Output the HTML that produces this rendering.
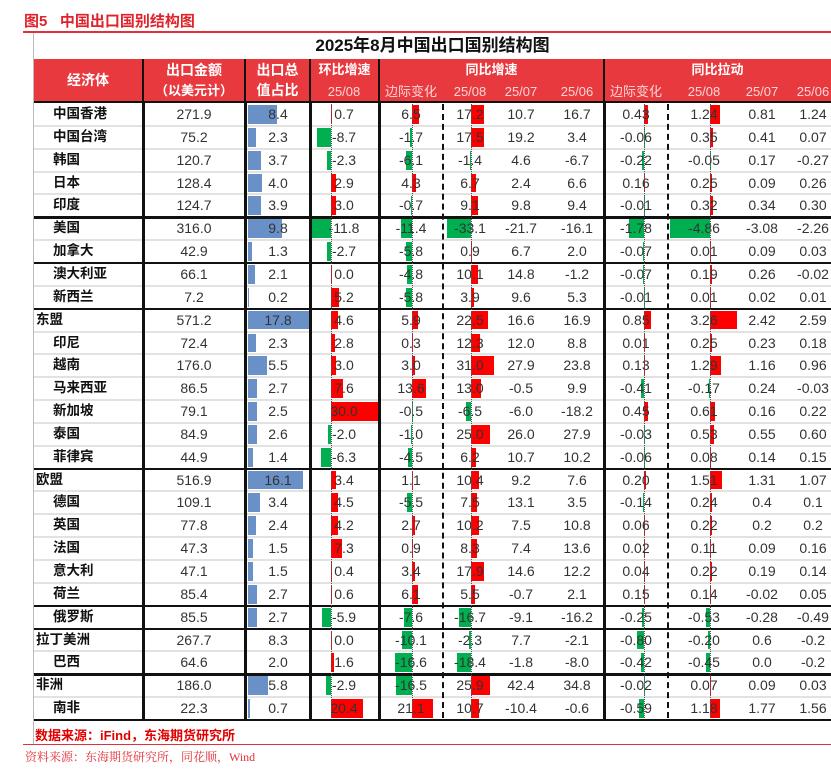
<!DOCTYPE html>
<html><head><meta charset="utf-8">
<style>
body{margin:0;background:#fff;}
#root{position:relative;width:831px;height:783px;overflow:hidden;font-family:"Liberation Sans","Noto Sans CJK SC",sans-serif;}
.a{position:absolute;}
.t{position:absolute;white-space:nowrap;text-align:center;}
</style></head>
<body>
<div id="root">
  <div class="a" style="left:24px;top:10px;font-size:15px;color:#e0222a;font-weight:bold;">图5&nbsp;&nbsp;&nbsp;中国出口国别结构图</div>
  <div class="a" style="left:23px;top:31px;width:808px;height:2px;background:#e0303a;"></div>
  <div class="a" style="left:33px;top:33px;width:1px;height:712px;background:#bbb;"></div>
  <div class="t" style="left:34px;top:34px;width:797px;font-size:17px;font-weight:bold;color:#111;line-height:24px;">2025年8月中国出口国别结构图</div>
  <div class="a" style="left:34px;top:59px;width:797px;height:43px;background:#e8393f;"></div>
  <div id="tbl"></div>
  <div class="a" style="left:35px;top:725px;font-size:13px;font-weight:bold;color:#e00000;">数据来源：iFind，东海期货研究所</div>
  <div class="a" style="left:23px;top:744px;width:808px;height:1px;background:#e0303a;"></div>
  <div class="a" style="left:25px;top:748px;font-size:12px;color:#e0303a;font-family:'Liberation Serif','Noto Serif CJK SC',serif;">资料来源：东海期货研究所，同花顺，Wind</div>
</div>
<script>
const names=["中国香港","中国台湾","韩国","日本","印度","美国","加拿大","澳大利亚","新西兰","东盟","印尼","越南","马来西亚","新加坡","泰国","菲律宾","欧盟","德国","英国","法国","意大利","荷兰","俄罗斯","拉丁美洲","巴西","非洲","南非"];
const amount=["271.9","75.2","120.7","128.4","124.7","316.0","42.9","66.1","7.2","571.2","72.4","176.0","86.5","79.1","84.9","44.9","516.9","109.1","77.8","47.3","47.1","85.4","85.5","267.7","64.6","186.0","22.3"];
const share=[8.4,2.3,3.7,4.0,3.9,9.8,1.3,2.1,0.2,17.8,2.3,5.5,2.7,2.5,2.6,1.4,16.1,3.4,2.4,1.5,1.5,2.7,2.7,8.3,2.0,5.8,0.7];
const momYoY=[0.7,-8.7,-2.3,2.9,3.0,-11.8,-2.7,0.0,5.2,4.6,2.8,3.0,7.6,30.0,-2.0,-6.3,3.4,4.5,4.2,7.3,0.4,0.6,-5.9,0.0,1.6,-2.9,20.4];
const yoyMarg=[6.5,-1.7,-6.1,4.3,-0.7,-11.4,-5.8,-4.8,-5.8,5.9,0.3,3.0,13.6,-0.5,-1.0,-4.5,1.1,-5.5,2.7,0.9,3.4,6.1,-7.6,-10.1,-16.6,-16.5,21.1];
const yoy08=[17.2,17.5,-1.4,6.7,9.1,-33.1,0.9,10.1,3.9,22.5,12.3,31.0,13.0,-6.5,25.0,6.2,10.4,7.5,10.2,8.3,17.9,5.5,-16.7,-2.3,-18.4,25.9,10.7];
const yoy07=[10.7,19.2,4.6,2.4,9.8,-21.7,6.7,14.8,9.6,16.6,12.0,27.9,-0.5,-6.0,26.0,10.7,9.2,13.1,7.5,7.4,14.6,-0.7,-9.1,7.7,-1.8,42.4,-10.4];
const yoy06=[16.7,3.4,-6.7,6.6,9.4,-16.1,2.0,-1.2,5.3,16.9,8.8,23.8,9.9,-18.2,27.9,10.2,7.6,3.5,10.8,13.6,12.2,2.1,-16.2,-2.1,-8.0,34.8,-0.6];
const pullMarg=["0.43","-0.06","-0.22","0.16","-0.01","-1.78","-0.07","-0.07","-0.01","0.85","0.01","0.13","-0.41","0.45","-0.03","-0.06","0.20","-0.14","0.06","0.02","0.04","0.15","-0.25","-0.80","-0.42","-0.02","-0.59"];
const pull08=["1.24","0.35","-0.05","0.25","0.32","-4.86","0.01","0.19","0.01","3.26","0.25","1.29","-0.17","0.61","0.53","0.08","1.51","0.24","0.22","0.11","0.22","0.14","-0.53","-0.20","-0.45","0.07","1.18"];
const pull07=["0.81","0.41","0.17","0.09","0.34","-3.08","0.09","0.26","0.02","2.42","0.23","1.16","0.24","0.16","0.55","0.14","1.31","0.4","0.2","0.09","0.19","-0.02","-0.28","0.6","0.0","0.09","1.77"];
const pull06=["1.24","0.07","-0.27","0.26","0.30","-2.26","0.03","-0.02","0.01","2.59","0.18","0.96","-0.03","0.22","0.60","0.15","1.07","0.1","0.2","0.16","0.14","0.05","-0.49","-0.2","-0.2","0.03","1.56"];
const groupHeads=[9,16,23,25];
const groupStarts=[5,7,9,16,22,23,25];
const noShareBar=[23,24];

const tbl=document.getElementById('tbl');
const E=[33,143,245,310,379,443,499,553,604,668,726,777,831];
const C=[194,278,344,411,470,521,577,636,704,762,813];
const top0=103,rh=22.85,N=names.length;
function div(css,txt){const d=document.createElement('div');d.style.cssText='position:absolute;'+css;if(txt!==undefined)d.textContent=txt;tbl.appendChild(d);return d;}
function txt(x0,x1,y,h,s,css){const d=div(`left:${x0}px;width:${x1-x0}px;top:${y}px;height:${h}px;line-height:${h}px;text-align:center;font-size:13px;color:#333;white-space:nowrap;`+(css||''),s);return d;}
let h;
h=txt(E[0],E[1],59,43,'经济体','color:#fff;font-weight:bold;font-size:14px;');

h=txt(E[1],E[2],60,21,'出口金额','color:#fff;font-weight:bold;font-size:14px;');

h=txt(E[1],E[2],80,21,'（以美元计）','color:#fff;font-weight:bold;font-size:13px;');

h=txt(E[2],E[3],60,21,'出口总','color:#fff;font-weight:bold;font-size:14px;');

h=txt(E[2],E[3],80,21,'值占比','color:#fff;font-weight:bold;font-size:14px;');

h=txt(E[3],E[4],59,22,'环比增速','color:#fff;font-weight:bold;font-size:13px;');

h=txt(E[4],E[8],59,22,'同比增速','color:#fff;font-weight:bold;font-size:13px;');

h=txt(E[8],E[12],59,22,'同比拉动','color:#fff;font-weight:bold;font-size:13px;');

const subs=[[3,'25/08'],[4,'边际变化'],[5,'25/08'],[6,'25/07'],[7,'25/06'],[8,'边际变化'],[9,'25/08'],[10,'25/07'],[11,'25/06']];
subs.forEach(([c,s])=>{const cx=C[c-1];const d=txt(cx-35,cx+35,81,21,s,'color:#fbd6d6;font-size:13px;');

});
[1,2,3,4,8].forEach(c=>{const d=div(`left:${E[c]-1}px;top:59px;width:2px;height:43px;background:#111;`);

});
div(`left:34px;top:101px;width:797px;height:2px;background:#111;`);
const bars=[
 {arr:momYoY,z:331,s:1.57},
 {arr:yoyMarg,z:412,s:1.0},
 {arr:yoy08,z:471,s:0.74},
 {arr:pullMarg.map(Number),z:644,s:8.2},
 {arr:pull08.map(Number),z:710,s:8.2}];
for(let i=0;i<N;i++){
  const y=top0+i*rh;
  if(i>0 && !groupStarts.includes(i)){const l=div(`left:34px;top:${y-1}px;width:797px;height:2px;background:#e2e2e2;`);
  
  }
  if(!noShareBar.includes(i)){const b=div(`left:248px;top:${y+2}px;width:${share[i]*3.43}px;height:${rh-4}px;background:#6a90c8;`);
  
  }
  bars.forEach((B,k)=>{const v=B.arr[i];const w=Math.abs(v)*B.s;const x=v>=0?B.z:B.z-w;
    const b=div(`left:${x}px;top:${y+2}px;width:${Math.max(w,1)}px;height:${rh-4}px;background:${v>=0?'#ff0000':'#00b050'};`);
    
    });
  const isHead=groupHeads.includes(i);
  const n=div(`left:${isHead?36:53}px;top:${y}px;height:${rh}px;line-height:${rh}px;font-size:13.5px;font-weight:bold;color:#111;white-space:nowrap;`,names[i]);
  
  
  const vals=[amount[i],share[i].toFixed(1),momYoY[i].toFixed(1),yoyMarg[i].toFixed(1),yoy08[i].toFixed(1),yoy07[i].toFixed(1),yoy06[i].toFixed(1),pullMarg[i],pull08[i],pull07[i],pull06[i]];
  vals.forEach((s,k)=>{const cx=C[k];const c=txt(cx-40,cx+40,y,rh,s,'font-size:14px;');
    
    });
}
const bot=top0+N*rh;
groupStarts.forEach(i=>{const l=div(`left:34px;top:${top0+i*rh-1}px;width:797px;height:2.5px;background:#111;`);

});
div(`left:34px;top:${bot-1}px;width:797px;height:2.5px;background:#111;`);
[1,2,3,4,8].forEach(c=>{const d=div(`left:${E[c]-1}px;top:102px;width:2.5px;height:${bot-102}px;background:#111;`);

});
[5,9].forEach(c=>{const d=div(`left:${E[c]-1}px;top:104px;width:0;height:${bot-106}px;border-left:2.5px dashed #111;`);

});
bars.forEach(B=>{const d=div(`left:${B.z}px;top:104px;width:0;height:${bot-106}px;border-left:1px dotted #555;`);

});
</script>
</body></html>
